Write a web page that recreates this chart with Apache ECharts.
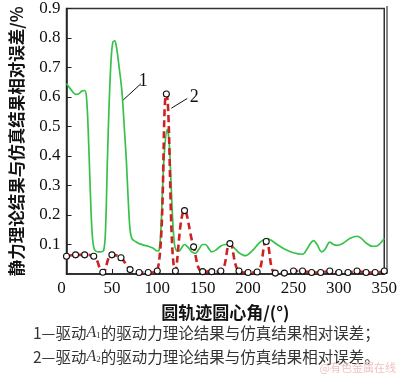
<!DOCTYPE html>
<html><head><meta charset="utf-8">
<script src="https://cdn.jsdelivr.net/npm/echarts@6/dist/echarts.min.js"></script>
<style>html,body{margin:0;padding:0;background:#fff}#c{width:400px;height:374px}</style>
</head><body><div id="c"></div>
<script>
// Curve 1: driver A1 relative error (green)
var green1Deg = [0,5,10,13,17,20,22,24,26,28,30,32,35,38,41,43,45,47,49,51,53,55,58,61,64,66,68,70,72,76,80,85,90,95,100,102,104,106,108,111,113,115,117,119,121,124,127,130,134,138,142,146,150,153,157,160,165,170,175,180,185,190,197,205,212,218,221,225,232,240,250,260,265,269,272,276,281,285,290,294,298,305,312,320,325,330,337,342,346,350];
var green1Val = [0.646,0.625,0.609,0.610,0.620,0.622,0.600,0.480,0.300,0.150,0.090,0.078,0.075,0.075,0.080,0.150,0.380,0.580,0.720,0.785,0.790,0.770,0.700,0.620,0.480,0.380,0.250,0.150,0.120,0.110,0.103,0.098,0.094,0.088,0.078,0.080,0.150,0.300,0.420,0.490,0.450,0.320,0.180,0.100,0.080,0.078,0.090,0.100,0.090,0.075,0.070,0.085,0.100,0.100,0.085,0.075,0.082,0.095,0.100,0.100,0.088,0.072,0.062,0.080,0.105,0.118,0.120,0.115,0.100,0.085,0.072,0.067,0.085,0.105,0.113,0.100,0.075,0.085,0.108,0.100,0.097,0.105,0.120,0.128,0.120,0.105,0.094,0.095,0.105,0.120];
// Curve 2: driver A2 relative error (red dashed with circles)
var red2Deg = [0,10,20,30,40,50,60,70,80,90,100,110,120,130,140,150,160,170,180,190,200,210,220,230,240,250,260,270,280,290,300,310,320,330,340,350];
var red2Val = [0.060,0.065,0.065,0.060,0.006,0.065,0.055,0.015,0.005,0.005,0.010,0.610,0.010,0.215,0.092,0.008,0.008,0.010,0.103,0.010,0.005,0.007,0.110,0.003,0.003,0.010,0.010,0.005,0.005,0.010,0.005,0.005,0.010,0.005,0.005,0.010];
var xTicks = [0,50,100,150,200,250,300,350];
var yTicks = [0,0.1,0.2,0.3,0.4,0.5,0.6,0.7,0.8,0.9];
var xName = '圆轨迹圆心角/(°)';
var yName = '静力理论结果与仿真结果相对误差/%';

function pairs(a,b){return a.map(function(v,i){return [v,b[i]];});}
var serif = '"Liberation Serif","Times New Roman",serif';
var cjk = '"Noto Sans CJK SC","Liberation Serif",sans-serif';

var chart = echarts.init(document.getElementById('c'), null, {renderer:'canvas'});
chart.setOption({
  animation:false,
  backgroundColor:'#fff',
  grid:{left:55,right:13,top:6,bottom:100,show:true,borderColor:'#333',borderWidth:1.5},
  xAxis:{type:'value',min:xTicks[0],max:xTicks[xTicks.length-1],interval:50,
    name:xName,nameLocation:'middle',nameGap:30,
    nameTextStyle:{fontFamily:cjk,fontSize:17,fontWeight:'bold',color:'#111'},
    axisLine:{lineStyle:{color:'#222',width:1.5}},
    axisTick:{inside:true,length:5,lineStyle:{color:'#222'}},
    splitLine:{show:false},
    axisLabel:{fontFamily:serif,fontSize:17,color:'#111',margin:6,
      formatter:function(v){return v===0?'{z|0}':String(v);},
      rich:{z:{fontFamily:serif,fontSize:17,color:'#111',padding:[0,10,0,0]}}}
  },
  yAxis:{type:'value',min:yTicks[0],max:yTicks[yTicks.length-1],interval:0.1,
    name:yName,nameLocation:'middle',nameGap:42,nameRotate:90,
    nameTextStyle:{fontFamily:cjk,fontSize:16.5,fontWeight:'bold',color:'#111'},
    axisLine:{lineStyle:{color:'#222',width:1.5}},
    axisTick:{inside:true,length:5,lineStyle:{color:'#222'}},
    splitLine:{show:false},
    axisLabel:{fontFamily:serif,fontSize:17,color:'#111',margin:6,showMinLabel:false,
      formatter:function(v){return v===0?'0':v.toFixed(1);}}
  },
  graphic:[
    {type:'line',shape:{x1:387,y1:6,x2:387,y2:274},style:{stroke:'#888',lineWidth:2},silent:true},
    {type:'text',left:33,top:325,style:{
      text:'1—驱动{i|A}{s|1}的驱动力理论结果与仿真结果相对误差；',
      font:'15.5px '+cjk,fill:'#333',
      rich:{i:{fontFamily:serif,fontStyle:'italic',fontSize:16,fill:'#333'},s:{fontFamily:serif,fontSize:9,fill:'#333',padding:[6,0,0,0]}}}},
    {type:'text',left:33,top:349,style:{
      text:'2—驱动{i|A}{s|2}的驱动力理论结果与仿真结果相对误差。',
      font:'15.5px '+cjk,fill:'#333',
      rich:{i:{fontFamily:serif,fontStyle:'italic',fontSize:16,fill:'#333'},s:{fontFamily:serif,fontSize:9,fill:'#333',padding:[6,0,0,0]}}}},
    {type:'text',right:4,bottom:1,style:{text:'@有色金属在线',font:'11px '+cjk,fill:'#efc4c4'}}
  ],
  series:[
    {type:'line',name:'1',data:pairs(green1Deg,green1Val),smooth:0.35,showSymbol:false,
      lineStyle:{color:'#36c24a',width:1.7},z:2,
      markLine:{silent:true,symbol:['none','none'],animation:false,
        lineStyle:{color:'#111',width:1,type:'solid'},
        label:{show:true,position:'end',formatter:'1',fontFamily:serif,fontSize:18,color:'#111',distance:3},
        data:[[{coord:[62.5,0.59]},{coord:[82,0.645]}]]}
    },
    {type:'line',name:'2',data:pairs(red2Deg,red2Val),smooth:0.45,
      symbol:'circle',symbolSize:6,showSymbol:true,
      itemStyle:{color:'#fff',borderColor:'#111',borderWidth:1.1},
      lineStyle:{color:'#cc2222',width:2.6,type:[7,4]},z:3,
      markLine:{silent:true,symbol:['none','none'],animation:false,
        lineStyle:{color:'#111',width:1,type:'solid'},
        label:{show:true,position:'end',formatter:'2',fontFamily:serif,fontSize:18,color:'#111',distance:3},
        data:[[{coord:[115.5,0.562]},{coord:[133,0.595]}]]}
    }
  ]
});
</script></body></html>
